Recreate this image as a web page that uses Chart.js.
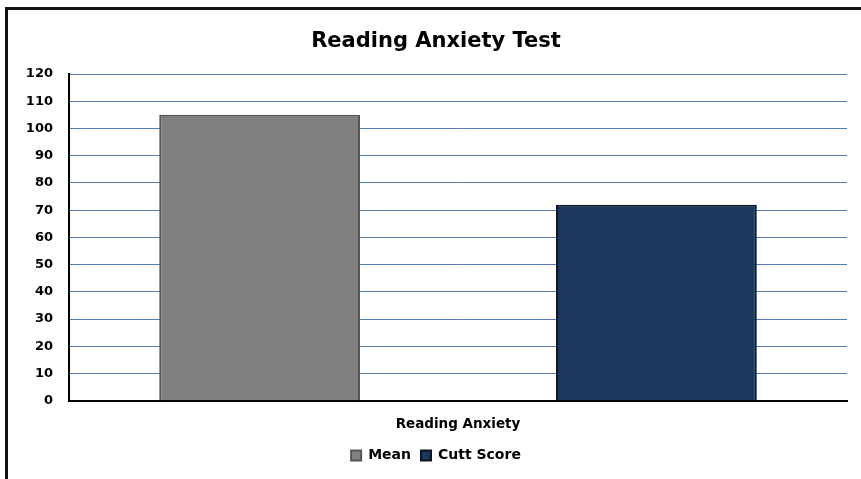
<!DOCTYPE html>
<html>
<head>
<meta charset="utf-8">
<script src="https://cdn.jsdelivr.net/npm/chart.js@4/dist/chart.umd.min.js"></script>
<style>
  html, body { margin: 0; padding: 0; background: #fff; overflow: hidden; }
  #frame {
    position: absolute; left: 5px; top: 7px;
    width: 856px; height: 472px;
    border-left: 3px solid #111; border-top: 3px solid #111;
  }
  #wrap { position: relative; width: 853px; height: 469px; }
</style>
</head>
<body>
<div id="frame"><div id="wrap"><canvas id="chart"></canvas></div></div>
<script>
// dados
const categorias = ['Reading Anxiety'];
const valoresMedia = [105];
const valoresCorte = [72];
const nomesSeries = ['Mean', 'Cutt Score'];
const yTicks = [0, 10, 20, 30, 40, 50, 60, 70, 80, 90, 100, 110, 120];

const fonte = "'DejaVu Sans', 'Liberation Sans', sans-serif";

const ctx = document.getElementById('chart').getContext('2d');
new Chart(ctx, {
    type: 'bar',
    data: {
        labels: categorias,
        datasets: [{
            label: nomesSeries[0],
            data: valoresMedia,
            backgroundColor: '#808080',
            borderColor: '#555555',
            borderWidth: 2
        }, {
            label: nomesSeries[1],
            data: valoresCorte,
            backgroundColor: '#1b375c',
            borderColor: '#0a1422',
            borderWidth: 2
        }]
    },
    options: {
        responsive: true,
        maintainAspectRatio: false,
        animation: false,
        categoryPercentage: 1.02,
        barPercentage: 0.506,
        // padding à esquerda desloca título e legenda um pouco para a direita, como no original
        layout: { padding: { left: 17, right: 14, top: 0, bottom: 6.6 } },
        scales: {
            y: {
                min: 0, max: 120,
                afterBuildTicks: (scale) => { scale.ticks = yTicks.map(v => ({ value: v })); },
                afterFit: (scale) => { scale.width = 44; },
                grid: { color: '#5579ad', lineWidth: 1, drawTicks: false },
                border: { color: '#000', width: 2 },
                ticks: { color: '#000', padding: 16, font: { family: fonte, size: 13, weight: 'bold' } }
            },
            x: {
                grid: { display: false, drawTicks: false },
                border: { color: '#000', width: 2 },
                afterFit: (scale) => { scale.height = 37.6; },
                ticks: { color: '#000', padding: 16, font: { family: fonte, size: 13.5, weight: 'bold' } }
            }
        },
        plugins: {
            title: {
                display: true,
                text: 'Reading Anxiety Test',
                color: '#000',
                font: { family: fonte, size: 21, weight: 'bold' },
                padding: { top: 19.4, bottom: 19.4 }
            },
            legend: {
                position: 'bottom',
                labels: {
                    color: '#000',
                    boxWidth: 10, boxHeight: 10,
                    padding: 10,
                    font: { family: fonte, size: 14, weight: 'bold' }
                }
            },
            tooltip: { enabled: false }
        }
    }
});
</script>
</body>
</html>
